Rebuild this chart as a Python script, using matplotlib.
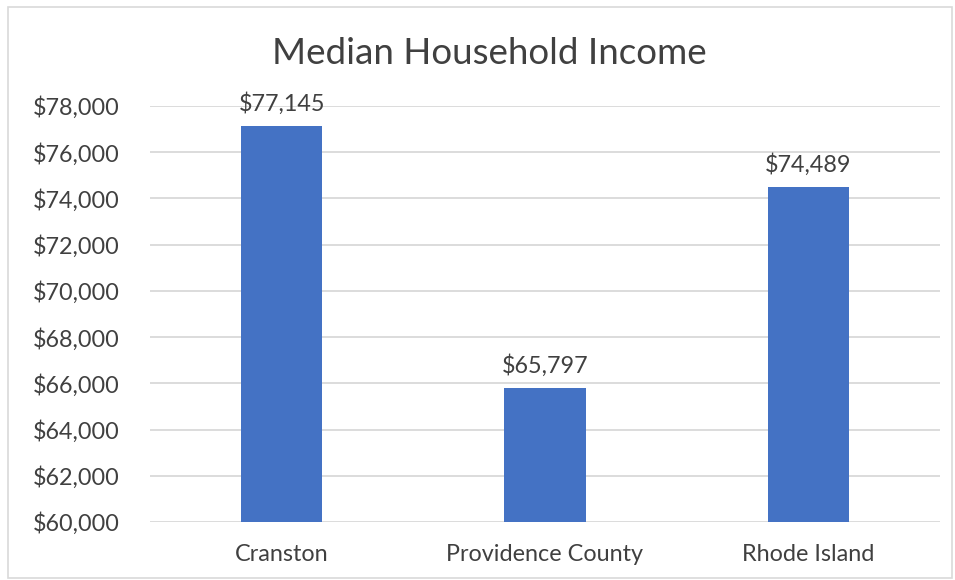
import matplotlib
matplotlib.use("Agg")
import matplotlib.pyplot as plt
from matplotlib.patches import Rectangle
from matplotlib.ticker import FuncFormatter, MultipleLocator

categories = ["Cranston", "Providence County", "Rhode Island"]
values = [77145, 65797, 74489]
title = "Median Household Income"

plt.rcParams['font.family'] = ['Lato', 'DejaVu Sans']
txt = '#404040'

fig = plt.figure(figsize=(9.55, 5.8), dpi=100)
ax = fig.add_axes([150/955, 1-522/580, 790/955, 416/580])

x = list(range(len(categories)))
ax.bar(x, values, width=0.31, color='#4472C4', zorder=3)
ax.set_xlim(-0.5, len(categories)-0.5)
ax.set_ylim(60000, 78000)
ax.yaxis.set_major_locator(MultipleLocator(2000))
ax.yaxis.set_major_formatter(FuncFormatter(lambda v, p: f"${v:,.0f}"))
ax.grid(axis='y', color='#d9d9d9', linewidth=1.3, zorder=0)
for s in ax.spines.values():
    s.set_visible(False)
ax.tick_params(axis='both', length=0, labelsize=16.8, labelcolor=txt)
ax.tick_params(axis='y', pad=22)
ax.tick_params(axis='x', pad=16)
ax.set_xticks(x)
ax.set_xticklabels(categories)

for xi, v in zip(x, values):
    ax.annotate(f"${v:,}", (xi, v), xytext=(0, 8), textcoords='offset points',
                ha='center', va='bottom', fontsize=16.8, color=txt)

fig.text(489/955, 1-53/580, title, ha='center', va='center', fontsize=26.5,
         color=txt)

fig.patches.append(Rectangle((8/955, 2/580), 944/955, 571/580, transform=fig.transFigure,
                             fill=False, edgecolor='#d9d9d9', linewidth=1.2))

fig.savefig("out.png", dpi=100, facecolor='white')
